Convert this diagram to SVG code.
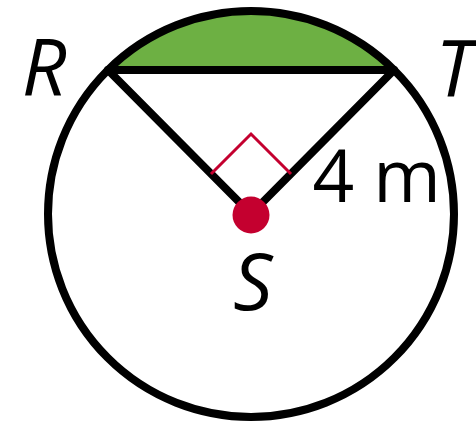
<svg xmlns="http://www.w3.org/2000/svg" width="476" height="422" viewBox="0 0 476 422">
<style>
.ln{fill:none;stroke:#000;stroke-width:8;stroke-linecap:round;stroke-linejoin:round}
.lbl{font-family:"Open Sans","Liberation Sans",sans-serif;font-size:78px;fill:#000}
.it{font-style:italic}
</style>
<rect width="476" height="422" fill="#fff"/>
<g id="segment">
<path d="M108,70 A203,203 0 0 1 394,70 Z" fill="#6db043" stroke="none"/>
</g>
<g id="circle">
<circle cx="251" cy="214" r="203" class="ln"/>
</g>
<g id="connectors">
<line x1="108" y1="70" x2="394" y2="70" class="ln"/>
<line x1="108" y1="70" x2="251" y2="214" class="ln"/>
<line x1="394" y1="70" x2="251" y2="214" class="ln"/>
<polyline points="211,174 251,134 291,174" fill="none" stroke="#c4002f" stroke-width="3"/>
</g>
<g id="S">
<circle cx="251" cy="215" r="18.5" fill="#c4002f"/>
<text x="253" y="310" class="lbl it" text-anchor="middle">S</text>
</g>
<g id="R">
<text x="44" y="96" class="lbl it" text-anchor="middle">R</text>
</g>
<g id="T">
<text x="455" y="97" class="lbl it" text-anchor="middle">T</text>
</g>
<g id="length">
<text x="312.5" y="202" class="lbl" style="font-size:73px">4 m</text>
</g>
</svg>
